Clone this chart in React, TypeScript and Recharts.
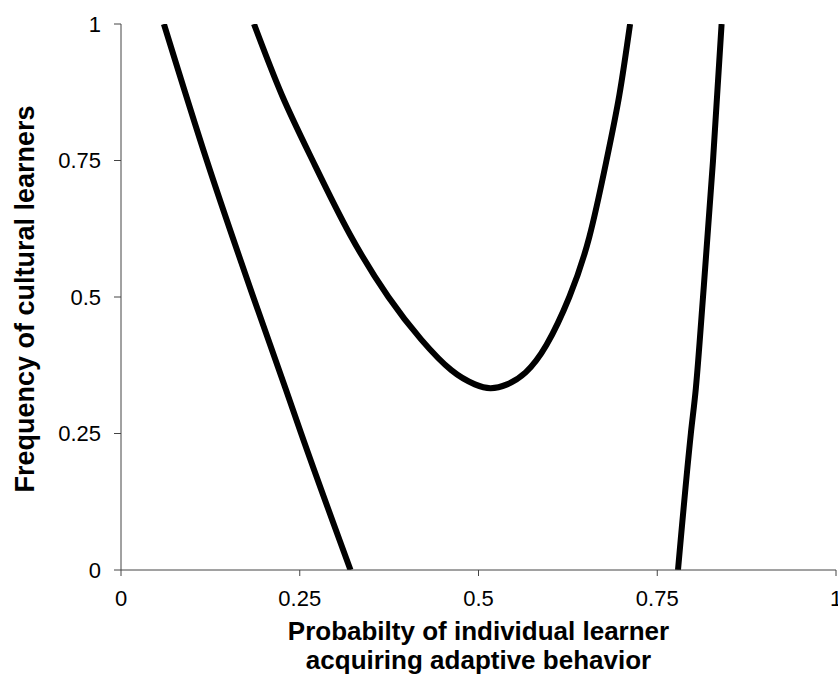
import React from "react";
import { LineChart, Line, XAxis, YAxis, Label } from "recharts";

// probability of individual learner (x) vs frequency of cultural learners (y)
const xTicks = [0, 0.25, 0.5, 0.75, 1];
const yTicks = [0, 0.25, 0.5, 0.75, 1];

const leftP = [0.06, 0.12, 0.185, 0.23, 0.252, 0.321];
const leftF = [1, 0.75, 0.5, 0.333, 0.25, 0];

const uP = [0.186, 0.225, 0.268, 0.32, 0.374, 0.42, 0.462, 0.495, 0.517, 0.54, 0.566, 0.595, 0.627, 0.655, 0.679, 0.697, 0.712];
const uF = [1, 0.87, 0.75, 0.615, 0.5, 0.422, 0.366, 0.34, 0.333, 0.34, 0.362, 0.412, 0.5, 0.61, 0.75, 0.87, 1];

const rightP = [0.779, 0.797, 0.804, 0.814, 0.828, 0.84];
const rightF = [0, 0.25, 0.333, 0.5, 0.75, 1];

const xTitleLines = ["Probabilty of individual learner", "acquiring adaptive behavior"];
const yTitle = "Frequency of cultural learners";

const zip = (p: number[], f: number[]) => p.map((v, i) => ({ p: v, f: f[i] }));

const leftData = zip(leftP, leftF);
const uData = zip(uP, uF);
const rightData = zip(rightP, rightF);

const font = '"Liberation Sans", Arial, sans-serif';
const axisColor = "#444";

const XTitle = (props: any) => {
  const vb = props.viewBox;
  const cx = vb.x + vb.width / 2;
  return (
    <text x={cx} y={vb.y} textAnchor="middle" fontFamily={font} fontWeight="bold" fontSize={26} fill="#000">
      <tspan x={cx} dy={70}>{xTitleLines[0]}</tspan>
      <tspan x={cx} dy={29}>{xTitleLines[1]}</tspan>
    </text>
  );
};

const YTitle = (props: any) => {
  const vb = props.viewBox;
  const cx = vb.x - 36;
  const cy = vb.y + vb.height / 2 + 2;
  return (
    <text
      x={cx}
      y={cy}
      textAnchor="middle"
      dominantBaseline="central"
      transform={`rotate(-90, ${cx}, ${cy})`}
      fontFamily={font}
      fontWeight="bold"
      fontSize={27}
      fill="#000"
    >
      {yTitle}
    </text>
  );
};

export default function App() {
  return (
    <div style={{ position: "absolute", left: 0, top: 0, width: 838, height: 680, overflow: "hidden", background: "#fff" }}>
      <LineChart width={860} height={680} margin={{ top: 24, right: 24, left: 61, bottom: 0 }}>
        <XAxis
          dataKey="p"
          type="number"
          domain={[0, 1]}
          ticks={xTicks}
          height={110}
          tickSize={6}
          tickMargin={14}
          stroke={axisColor}
          tick={{ fill: "#000", fontSize: 22, fontFamily: font }}
          allowDataOverflow
        >
          <Label content={<XTitle />} />
        </XAxis>
        <XAxis xAxisId="top" orientation="top" type="number" domain={[0, 1]} height={0} tick={false} tickLine={false} stroke={axisColor} />
        <YAxis
          type="number"
          domain={[0, 1]}
          ticks={yTicks}
          width={60}
          tickSize={7}
          tickMargin={13}
          stroke={axisColor}
          tick={{ fill: "#000", fontSize: 22, fontFamily: font }}
          allowDataOverflow
        >
          <Label content={<YTitle />} />
        </YAxis>
        <YAxis yAxisId="right" orientation="right" type="number" domain={[0, 1]} width={0} tick={false} tickLine={false} stroke={axisColor} />
        <Line data={leftData} dataKey="f" type="monotone" stroke="#000" strokeWidth={6} dot={false} isAnimationActive={false} />
        <Line data={uData} dataKey="f" type="natural" stroke="#000" strokeWidth={6} dot={false} isAnimationActive={false} />
        <Line data={rightData} dataKey="f" type="monotone" stroke="#000" strokeWidth={6} dot={false} isAnimationActive={false} />
      </LineChart>
    </div>
  );
}
